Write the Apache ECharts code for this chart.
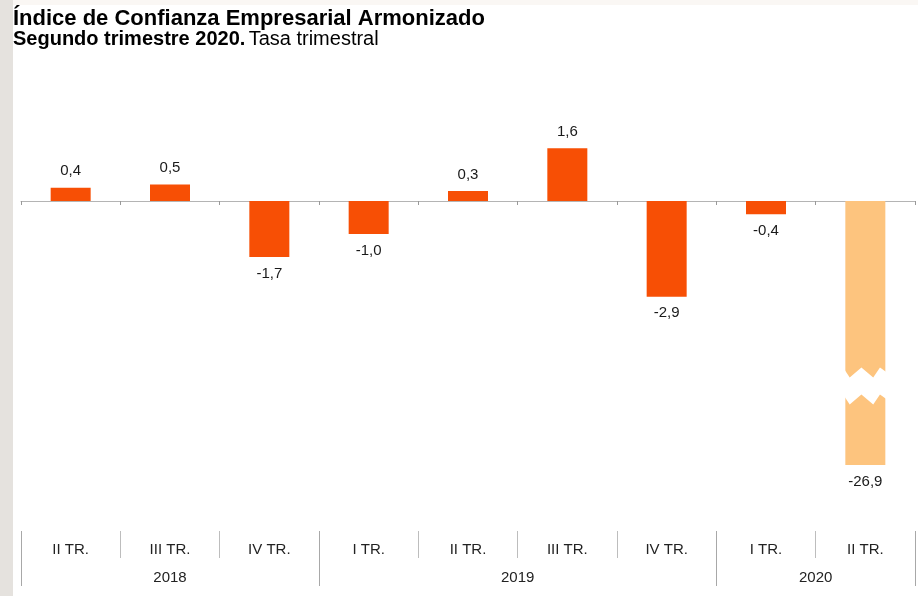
<!DOCTYPE html>
<html>
<head>
<meta charset="utf-8">
<script src="https://cdn.jsdelivr.net/npm/echarts@6/dist/echarts.min.js"></script>
<style>
  html, body { margin: 0; padding: 0; background: #fff; }
  #strip { position: absolute; left: 0; top: 0; width: 13px; height: 596px; background: #e5e2de; }
  #topstrip { position: absolute; left: 13px; top: 0; width: 905px; height: 5px; background: #faf7f4; }
  #chart { position: absolute; left: 0; top: 0; width: 918px; height: 596px; }
</style>
</head>
<body>
<div id="strip"></div>
<div id="topstrip"></div>
<div id="chart"></div>
<script>
// trimestres y valores (tasa trimestral)
const quarters = ['II TR.', 'III TR.', 'IV TR.', 'I TR.', 'II TR.', 'III TR.', 'IV TR.', 'I TR.', 'II TR.'];
const values = [0.4, 0.5, -1.7, -1.0, 0.3, 1.6, -2.9, -0.4, -26.9];
// años y en qué trimestre empieza cada uno (el último es el final del eje)
const years = ['2018', '2019', '2020'];
const yearBounds = [0, 3, 7, 9];

const mainColor = '#f74f05';
const lastColor = '#fdc47e';
const font = '"Liberation Sans", Arial, sans-serif';

const fmt = v => v.toFixed(1).replace('.', ',');

// centro de cada año sobre el eje 0..9
const yearCenters = years.map((y, i) => (yearBounds[i] + yearBounds[i + 1]) / 2);

const chart = echarts.init(document.getElementById('chart'));

const option = {
    animation: false,
    textStyle: { fontFamily: font },
    title: {
        left: 8,
        top: 4,
        text: 'Índice de Confianza Empresarial Armonizado',
        textStyle: { fontSize: 22, fontWeight: 'bold', color: '#000', fontFamily: font, lineHeight: 20 },
        subtext: '{b|Segundo trimestre 2020.} {n|Tasa trimestral}',
        itemGap: 0,
        subtextStyle: {
            rich: {
                b: { fontSize: 20, fontWeight: 'bold', color: '#000', fontFamily: font, lineHeight: 17 },
                n: { fontSize: 20, color: '#000', fontFamily: font, lineHeight: 17 }
            }
        }
    },
    grid: {
        left: 21,
        right: 3,
        top: 135,
        bottom: 131,
        containLabel: false,
        outerBoundsMode: 'none'
    },
    xAxis: [
        {
            // línea del cero
            type: 'category',
            data: quarters,
            axisLine: { onZero: true, lineStyle: { color: '#b4b4b4', width: 1 } },
            axisTick: { show: true, length: 4, lineStyle: { color: '#999' } },
            axisLabel: { show: false },
            splitLine: { show: false }
        },
        {
            // etiquetas de trimestres
            type: 'category',
            data: quarters,
            position: 'bottom',
            offset: 66,
            axisLine: { show: false, onZero: false },
            axisTick: { show: true, length: 27, lineStyle: { color: '#bdbdbd' } },
            axisLabel: { margin: 11, fontSize: 15, color: '#222', fontFamily: font },
            splitLine: { show: false }
        },
        {
            // años
            type: 'value',
            min: 0,
            max: 9,
            position: 'bottom',
            offset: 66,
            axisLine: { show: false, onZero: false },
            axisTick: { show: true, length: 55, customValues: yearBounds, lineStyle: { color: '#a8a8a8' } },
            axisLabel: {
                margin: 39,
                fontSize: 15,
                color: '#222',
                fontFamily: font,
                customValues: yearCenters,
                formatter: v => years[yearCenters.indexOf(v)] || ''
            },
            splitLine: { show: false }
        }
    ],
    yAxis: {
        type: 'value',
        min: -26.9,
        max: 2,
        axisLine: { show: false },
        axisTick: { show: false },
        axisLabel: { show: false },
        splitLine: { show: false },
        breaks: [{ start: -24.9, end: -5.2, gap: '8%' }],
        breakArea: {
            show: true,
            expandOnClick: false,
            zigzagAmplitude: 5,
            zigzagMinSpan: 6,
            zigzagMaxSpan: 14,
            itemStyle: { color: '#fff', borderColor: '#fff', borderWidth: 0, opacity: 1 }
        }
    },
    series: [
        {
            type: 'bar',
            xAxisIndex: 0,
            barWidth: 40,
            data: values.map((v, i) => ({
                value: v,
                itemStyle: { color: i === values.length - 1 ? lastColor : mainColor },
                label: { position: v >= 0 ? 'top' : 'bottom' }
            })),
            label: {
                show: true,
                distance: 9,
                fontSize: 15,
                color: '#1a1a1a',
                fontFamily: font,
                formatter: p => fmt(p.value)
            }
        }
    ]
};

chart.setOption(option);
</script>
</body>
</html>
